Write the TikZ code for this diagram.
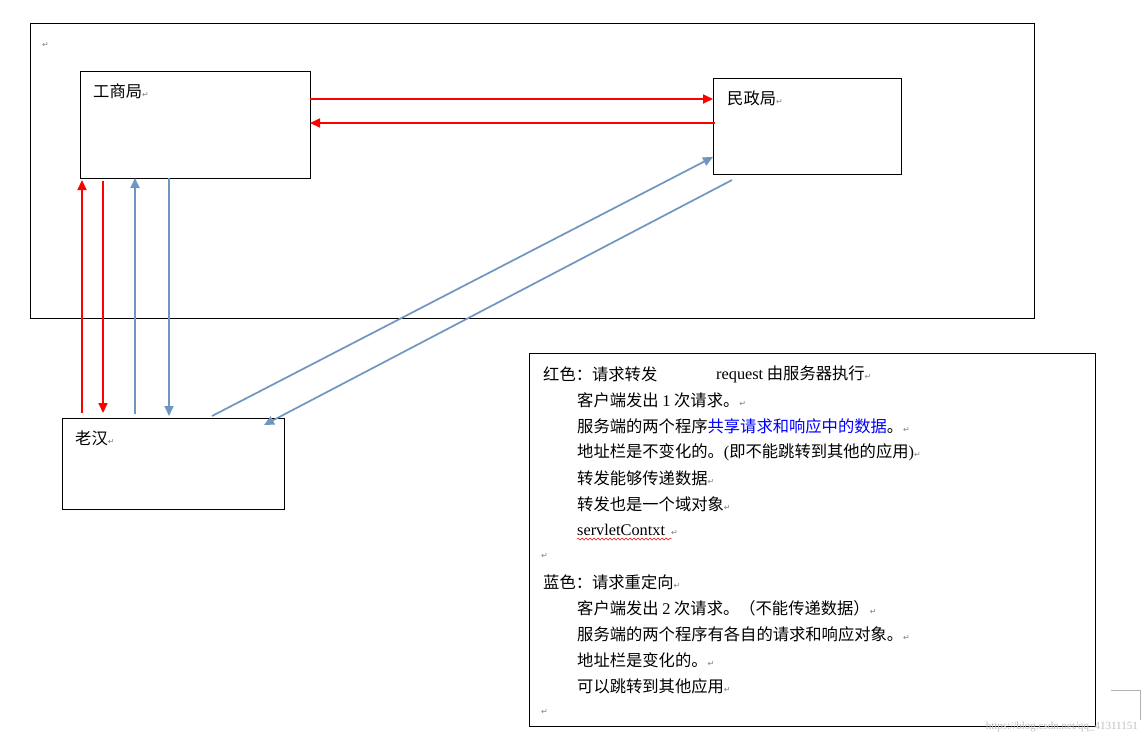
\documentclass[tikz,border=0pt]{standalone}
\usepackage{fontspec}
\setmainfont{Liberation Serif}
\newfontfamily\cjk{Noto Sans CJK SC}
\newfontfamily\djvu{DejaVu Sans}
\usetikzlibrary{arrows.meta,decorations.pathmorphing}
\definecolor{rblue}{RGB}{110,150,192}
\definecolor{rred}{RGB}{255,0,0}
\newcommand{\rt}{{\djvu\color{gray}\fontsize{8}{8}\selectfont ↵}}
\tikzset{
  box/.style={draw=black, line width=1pt},
  redarr/.style={draw=rred, line width=1.7pt, -{Triangle[length=10pt,width=9pt]}},
  bluearr/.style={draw=rblue, line width=1.7pt, -{Triangle[length=10pt,width=9pt]}},
  lbl/.style={anchor=west, inner sep=0pt, font=\cjk\fontsize{16.3}{16}\selectfont},
}
\begin{document}
\begin{tikzpicture}[x=1pt,y=-1pt]
\useasboundingbox (0,0) rectangle (1144,745);
\fill[white] (0,0) rectangle (1144,745);
\draw[box] (30,23) rectangle (1034,318);
\node[lbl] (m0) at (42,45) {\rt};
\draw[box] (80,71) rectangle (310,178);
\node[lbl] (gs) at (93,91) {工商局\rt};
\draw[box] (713,78) rectangle (901,174);
\node[lbl] (mz) at (727,98) {民政局\rt};
\draw[box] (62,418) rectangle (284,509);
\node[lbl] (lh) at (75,438) {老汉\rt};
\draw[box] (529,353) rectangle (1095,726);
\coordinate (a1) at (310,99); \coordinate (a2) at (713,99);
\draw[redarr] (a1) -- (a2);
\coordinate (b1) at (715,123); \coordinate (b2) at (310,123);
\draw[redarr] (b1) -- (b2);
\coordinate (c1) at (82,413); \coordinate (c2) at (82,180);
\draw[redarr] (c1) -- (c2);
\coordinate (d1) at (103,181); \coordinate (d2) at (103,413);
\draw[redarr] (d1) -- (d2);
\coordinate (e1) at (135,414); \coordinate (e2) at (135,178);
\draw[bluearr] (e1) -- (e2);
\coordinate (f1) at (169,178); \coordinate (f2) at (169,416);
\draw[bluearr] (f1) -- (f2);
\coordinate (g1) at (212,416); \coordinate (g2) at (713,157);
\draw[bluearr] (g1) -- (g2);
\coordinate (h1) at (732,180); \coordinate (h2) at (264,425);
\draw[bluearr] (h1) -- (h2);
\node[lbl] (t1) at (543,374) {红色：请求转发};
\node[lbl] (t1b) at (716,374) {{\rmfamily request} 由服务器执行\rt};
\node[lbl] (t2) at (577,400) {客户端发出 {\rmfamily 1} 次请求。\rt};
\node[lbl] (t3) at (577,426) {服务端的两个程序{\color{blue}共享请求和响应中的数据}。\rt};
\node[lbl] (t4) at (577,452) {地址栏是不变化的。{\rmfamily (}即不能跳转到其他的应用{\rmfamily )}\rt};
\node[lbl] (t5) at (577,478) {转发能够传递数据\rt};
\node[lbl] (t6) at (577,504) {转发也是一个域对象\rt};
\node[lbl] (t7) at (577,530) {{\rmfamily servletContxt}\hspace{6pt}\rt};
\draw[rred, thin, decorate, decoration={snake, amplitude=1pt, segment length=4pt}] (577,539) -- (672,539);
\node[lbl] (t8) at (541,556) {\rt};
\node[lbl] (t9) at (543,582) {蓝色：请求重定向\rt};
\node[lbl] (t10) at (577,608) {客户端发出 {\rmfamily 2} 次请求。（不能传递数据）\rt};
\node[lbl] (t11) at (577,634) {服务端的两个程序有各自的请求和响应对象。\rt};
\node[lbl] (t12) at (577,660) {地址栏是变化的。\rt};
\node[lbl] (t13) at (577,686) {可以跳转到其他应用\rt};
\node[lbl] (t14) at (541,712) {\rt};
\draw[gray!60] (1111,690) -- (1140,690) -- (1140,720);
\node[anchor=east, inner sep=0pt, text=gray!50, font=\rmfamily\fontsize{11}{11}\selectfont] (wm) at (1138,727) {https://blog.csdn.net/qq\_41311151};
\end{tikzpicture}
\end{document}
